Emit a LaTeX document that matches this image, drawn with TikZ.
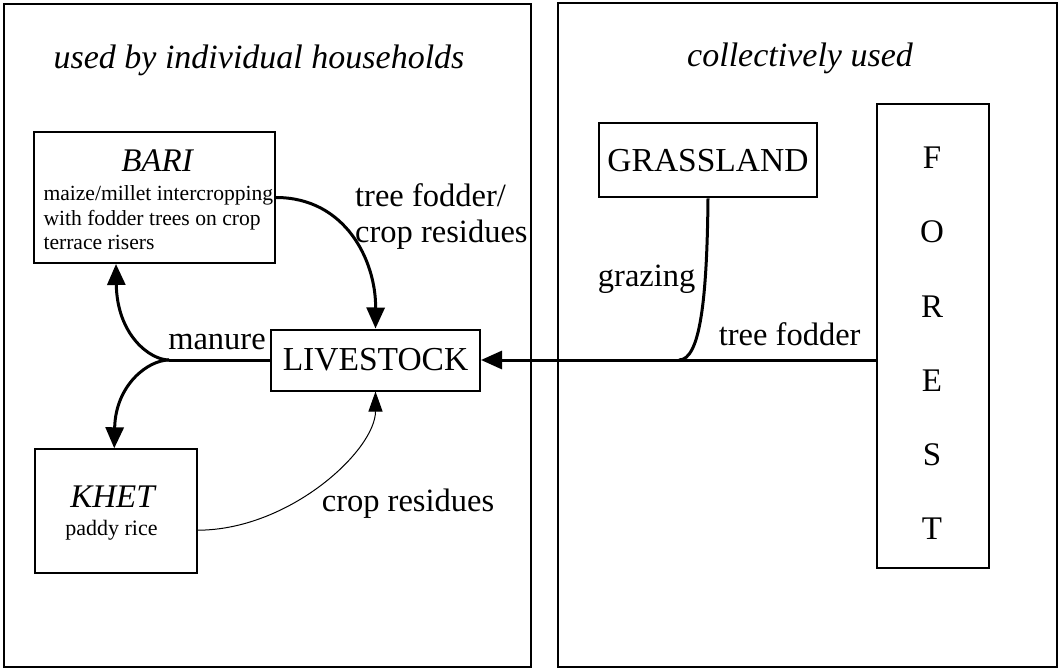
\documentclass[tikz,border=0pt]{standalone}
\usepackage{fontspec}
\setmainfont{Liberation Serif}
\usetikzlibrary{arrows.meta,calc}
\tikzset{
  panel/.style={draw, line width=2pt},
  box/.style={draw, line width=2pt, inner sep=0pt},
  bigtext/.style={font=\fontsize{32.5}{38}\selectfont, inner sep=0pt, anchor=base},
  ittext/.style={font=\fontsize{34}{38}\selectfont\itshape, inner sep=0pt, anchor=base},
  boxtext/.style={font=\fontsize{33.5}{38}\selectfont},
  flow/.style={line width=3pt, -{Triangle[length=21pt,width=18pt]}},
  thinflow/.style={line width=1pt, -{Triangle[length=20pt,width=14pt]}},
  thickline/.style={line width=3pt},
}
\begin{document}
\begin{tikzpicture}[x=1pt,y=-1pt]
\useasboundingbox (0,0) rectangle (1059,668);
% panels
\draw[panel] (4,4) rectangle (531,666.5);
\draw[panel] (558,3.5) rectangle (1057,666.5);
\node[ittext] (tleft) at (259,69) {used by individual households};
\node[ittext] (tright) at (800,66.7) {collectively used};
% boxes
\node[box, minimum width=241pt, minimum height=131pt] (bari) at (154.5,197.5) {};
\node[ittext, font=\fontsize{33}{38}\selectfont\itshape] (baritit) at (157,171.7) {BARI};
\node[inner sep=0pt, anchor=north west, align=left, font=\fontsize{21.6}{24.5}\selectfont] (baritxt) at (43.3,185.4)
  {maize/millet intercropping\\with fodder trees on crop\\terrace risers};
\node[box, minimum width=161.5pt, minimum height=124pt] (khet) at (116,511.3) {};
\node[ittext, font=\fontsize{33}{38}\selectfont\itshape] (khettit) at (112.5,507.3) {KHET};
\node[inner sep=0pt, anchor=base, font=\fontsize{22}{26}\selectfont] (khettxt) at (111.5,535.7) {paddy rice};
\node[box, boxtext, minimum width=209pt, minimum height=61pt] (livestock) at (375.5,360) {LIVESTOCK};
\node[box, boxtext, minimum width=218pt, minimum height=74pt] (grassland) at (708,160.3) {GRASSLAND};
\node[box, minimum width=112pt, minimum height=463.7pt] (forest) at (933.3,335.8) {};
\node[inner sep=0pt, anchor=north, align=center, font=\fontsize{33}{74.3}\selectfont] (foresttxt) at (932,146.6)
  {F\\O\\R\\E\\S\\T};
% coordinates
\coordinate (mb) at (169,360);
\coordinate (gj) at (679,360);
\coordinate (bariin) at ($(bari.south west)+(83,0)$);
\coordinate (khetin) at ($(khet.north west)+(80,0)$);
\coordinate (khetout) at ($(khet.south east)!0.35!(khet.north east)$);
% connectors
\draw[flow] (livestock.east -| forest.west) -- (livestock.east);
\draw[thickline] (grassland.south) .. controls (707,300) and (700,360) .. (gj);
\draw[flow] (bari.east) .. controls (345,197.5) and (376,260) .. (livestock.north);
\draw[thickline] (livestock.west) -- (mb);
\draw[flow] (mb) .. controls (150,360) and (117,335) .. (bariin);
\draw[flow] (mb) .. controls (148,360) and (115.5,385) .. (khetin);
\draw[thinflow] (khetout) .. controls (290,530) and (375.5,450) .. (livestock.south);
% labels
\node[bigtext, anchor=base west] (l1) at (355,206.5) {tree fodder/};
\node[bigtext, anchor=base west] (l2) at (355,242.5) {crop residues};
\node[bigtext] (l3) at (217,349.3) {manure};
\node[bigtext] (l4) at (408,511.7) {crop residues};
\node[bigtext] (l5) at (646.7,286) {grazing};
\node[bigtext] (l6) at (789.7,345) {tree fodder};
\end{tikzpicture}
\end{document}
